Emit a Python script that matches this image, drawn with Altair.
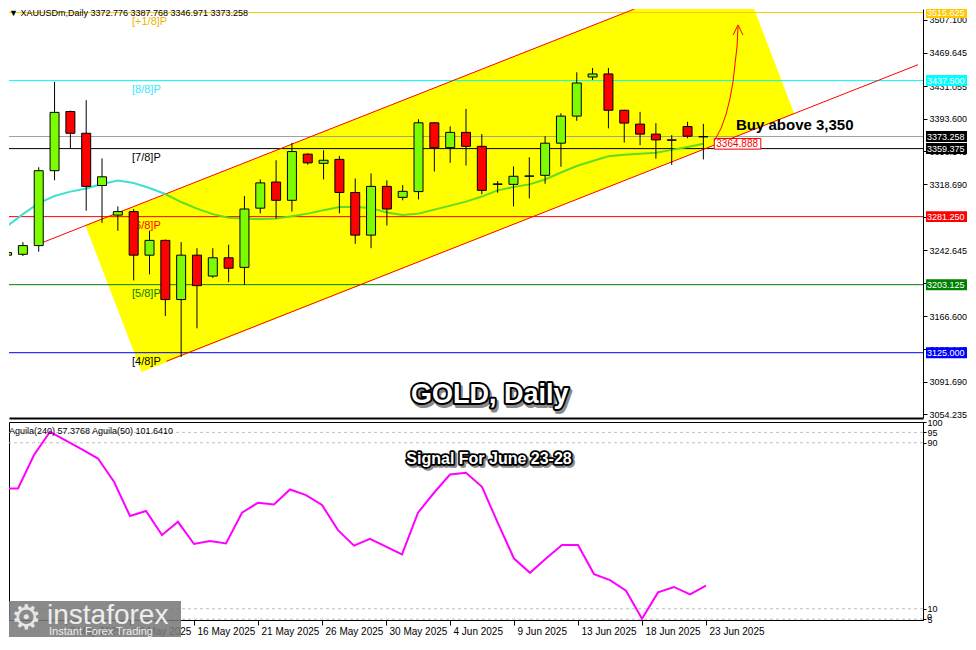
import altair as alt
import pandas as pd

# ---------------- data ----------------
dates = ["2 May 2025", "4 May 2025", "5 May 2025", "6 May 2025", "7 May 2025", "8 May 2025",
         "9 May 2025", "11 May 2025", "12 May 2025", "13 May 2025", "14 May 2025", "15 May 2025",
         "16 May 2025", "18 May 2025", "19 May 2025", "20 May 2025", "21 May 2025", "22 May 2025",
         "23 May 2025", "25 May 2025", "26 May 2025", "27 May 2025", "28 May 2025", "29 May 2025",
         "30 May 2025", "1 Jun 2025", "2 Jun 2025", "3 Jun 2025", "4 Jun 2025", "5 Jun 2025",
         "6 Jun 2025", "8 Jun 2025", "9 Jun 2025", "10 Jun 2025", "11 Jun 2025", "12 Jun 2025",
         "13 Jun 2025", "15 Jun 2025", "16 Jun 2025", "17 Jun 2025", "18 Jun 2025", "19 Jun 2025",
         "20 Jun 2025", "22 Jun 2025", "23 Jun 2025"]

opens = [3237, 3238, 3248, 3334, 3402, 3377, 3317, 3283, 3287, 3237, 3254, 3186, 3237, 3213, 3234,
         3223, 3291, 3321, 3300, 3353, 3342.5, 3347, 3309, 3260, 3316, 3303.4, 3310, 3389, 3360.5,
         3378, 3362, 3318.3, 3318.3, 3327.6, 3328.7, 3365.6, 3396.7, 3441.6, 3445.1, 3403.4, 3387.5,
         3376, 3369.4, 3384.7, 3372.776]
highs = [3242, 3252, 3338, 3436, 3403, 3415, 3348, 3293, 3290, 3265, 3255, 3252, 3245, 3245, 3249,
         3305, 3324, 3346, 3366, 3354, 3357.5, 3351, 3325, 3331, 3323, 3317.5, 3393, 3390, 3385,
         3405, 3376, 3322, 3339, 3349.4, 3373.6, 3400, 3447, 3452, 3452, 3404, 3401.6,
         3388.6, 3374.8, 3390.1, 3387.768]
lows = [3234, 3236, 3241, 3323, 3360, 3288, 3274, 3265, 3208, 3215, 3167, 3120, 3153, 3211, 3206,
        3203, 3285, 3279, 3287, 3341, 3324, 3285, 3250, 3245, 3271, 3300, 3301, 3333, 3343,
        3340, 3307, 3308.7, 3293, 3302.2, 3319, 3338.6, 3391.3, 3438.2, 3382.6, 3366.3, 3363.3,
        3347.8, 3340.6, 3371.3, 3346.971]
closes = [3240, 3248, 3334, 3401, 3377, 3316, 3327, 3287, 3237, 3254, 3186, 3237, 3202, 3234, 3222,
          3290, 3320, 3300, 3356, 3343, 3346, 3309, 3260, 3316, 3290, 3310.3, 3389, 3360.5, 3378,
          3362, 3311.4, 3318.8, 3327.6, 3328, 3365.6, 3396.7, 3434.7, 3445.1, 3403.4, 3388.7, 3376,
          3369.4, 3369.0, 3373.6, 3373.258]

ma_values = [3270.3, 3284.1, 3296.8, 3304.9, 3310.0, 3313.5, 3318.7, 3322.7, 3319.8, 3314.1, 3307.2,
             3298.0, 3290.5, 3284.1, 3280.1, 3279.0, 3278.4, 3279.0, 3281.8, 3284.7, 3288.7, 3292.2,
             3292.5, 3291.0, 3285.9, 3283.0, 3284.7, 3289.3, 3293.9, 3298.5, 3304.3, 3311.4, 3315.2,
             3318.3, 3323.9, 3331.9, 3339.4, 3345.2, 3350.6, 3352.3, 3353.5, 3354.7, 3357.9, 3361.3,
             3364.9]

aguila = [68.0, 68.0, 84.1, 95.3, 91.0, 86.8, 82.4, 71.2, 54.7, 57.1, 45.5, 51.9, 41.2, 42.6, 41.5,
          56.3, 61.1, 60.3, 67.5, 64.8, 60.0, 47.9, 40.4, 43.7, 39.9, 36.2, 56.3, 65.9, 74.7, 75.5,
          68.8, 51.1, 34.2, 27.3, 34.2, 40.7, 40.7, 26.7, 23.8, 18.7, 5.2, 17.9, 20.5, 16.9, 21.1]

level_prices = [3515.625, 3437.500, 3373.258, 3359.375, 3281.250, 3203.125, 3125.000]
level_labels = ["3515.625", "3437.500", "3373.258", "3359.375", "3281.250", "3203.125", "3125.000"]
level_line_colors = ["#FFC800", "#00FFFF", "#A0A0A0", "#000000", "#FF0000", "#008000", "#0000FF"]
level_box_colors = ["#FFC800", "#00FFFF", "#000000", "#000000", "#FF0000", "#008000", "#0000FF"]

tag_prices = [3515.625, 3437.500, 3359.375, 3281.250, 3203.125, 3125.000]
tag_texts = ["[+1/8]P", "[8/8]P", "[7/8]P", "[6/8]P", "[5/8]P", "[4/8]P"]
tag_colors = ["#F0B400", "#30E8FF", "#000000", "#FF0000", "#008000", "#000000"]

price_ticks = [3507.100, 3469.645, 3431.055, 3393.600, 3356.145, 3318.690, 3280.667, 3242.645,
               3204.622, 3166.600, 3129.145, 3091.690, 3054.235]
date_ticks = [4, 8, 12, 16, 20, 24, 28, 32, 36, 40, 44]
osc_ticks = [5, 10, 90, 95, 100]
osc_grid = [5, 10, 90, 95]

# channel (bar index, price)
upper_x = [2.0, 39.64]
upper_p = [3249.8, 3519.7]
lower_x = [10.06, 57.5625]
lower_p = [3115.1, 3455.7]
fill_x = [4.94, 8.5, 39.64, 46.19, 47.21, 49.75]
fill_top = [3271.7, 3296.4, 3519.7, 3519.7, 3519.7, 3399.1]
fill_bot = [3271.7, 3102.8, 3327.2, 3374.2, 3381.5, 3399.1]

# curved arrow annotation (bar index, price)
arc_x = [44.69, 45.13, 45.44, 45.69, 45.88, 46.0, 46.13, 46.19]
arc_p = [3368.1, 3383.1, 3399.1, 3417.5, 3437.0, 3456.6, 3477.2, 3499.1]
head_x = [45.88, 46.19, 46.5]
head_p = [3489.9, 3501.4, 3489.9]

ma_label_value = 3364.888
header = "\u25BC  XAUUSDm,Daily  3372.776 3387.768 3346.971 3373.258"
osc_header = "Aguila(240) 57.3768   Aguila(50) 101.6410"

# ---------------- layout ----------------
W = 914
H_TOP = 409
H_BOT = 198
FONT = "Liberation Sans"
P_TOP = 3519.7

xs = alt.Scale(domain=[0.4375, 0.4375 + W / 16.0], nice=False, zero=False)
ys = alt.Scale(domain=[3050.0, P_TOP], nice=False, zero=False)
os_ = alt.Scale(domain=[4.58, 100.0], nice=False, zero=False)

top_x_axis = alt.Axis(orient="bottom", labels=False, ticks=False, domain=True, domainColor="black",
                      domainWidth=2, grid=False, title=None)
top_y_axis = alt.Axis(orient="right", values=price_ticks, format=".3f", grid=False, title=None,
                      tickSize=4, tickColor="black", domainColor="black", labelColor="black",
                      labelFontSize=9, labelPadding=2, labelOverlap=False, labelFont=FONT)

expr = "[" + ",".join("'" + d + "'" for d in dates) + "][datum.value]"
bot_x_axis = alt.Axis(orient="bottom", values=date_ticks, labelExpr=expr, labelAlign="left",
                      labelOffset=3, labelFlush=False, labelOverlap=False, tickSize=5,
                      tickColor="black", domainColor="black", labelColor="black", labelFontSize=10,
                      labelPadding=1, labelBaseline="top", grid=False, title=None, labelFont=FONT)
bot_y_axis = alt.Axis(orient="right", values=osc_ticks, grid=False, title=None, tickSize=3,
                      tickColor="black", domainColor="black", labelColor="black", labelFontSize=9,
                      labelPadding=1, labelOverlap=False, labelFont=FONT)


def TX(f):
    return alt.X(f, type="quantitative", scale=xs, axis=top_x_axis)


def TY(f):
    return alt.Y(f, type="quantitative", scale=ys, axis=top_y_axis)


def BX(f):
    return alt.X(f, type="quantitative", scale=xs, axis=bot_x_axis)


def BY(f):
    return alt.Y(f, type="quantitative", scale=os_, axis=bot_y_axis)


idx = list(range(len(dates)))
candles = pd.DataFrame({"i": idx, "o": opens, "h": highs, "l": lows, "c": closes})
candles["col"] = ["#7CFC00" if c >= o else "#FF0000" for o, c in zip(opens, closes)]

ma_df = pd.DataFrame({"i": idx, "v": ma_values})
osc_df = pd.DataFrame({"i": idx, "v": aguila})
lev_df = pd.DataFrame({"price": level_prices, "lab": level_labels, "lc": level_line_colors,
                       "bc": level_box_colors})
tag_df = pd.DataFrame({"price": tag_prices, "t": tag_texts, "tc": tag_colors})
fill_df = pd.DataFrame({"x": fill_x, "top": fill_top, "bot": fill_bot})
chan_df = pd.DataFrame({"x": upper_x + lower_x, "p": upper_p + lower_p,
                        "g": ["u", "u", "l", "l"]})
arc_df = pd.DataFrame({"x": arc_x, "p": arc_p, "o": list(range(len(arc_x)))})
head_df = pd.DataFrame({"x": head_x, "p": head_p, "o": [0, 1, 2]})
one = pd.DataFrame({"a": [0]})

# ---------------- top panel ----------------
fill = alt.Chart(fill_df).mark_area(color="#FFFF00", clip=True).encode(
    x=TX("x"), y=TY("top"), y2=alt.Y2("bot"))

levels = alt.Chart(lev_df).mark_rule(strokeWidth=1).encode(
    y=TY("price"), color=alt.Color("lc:N", scale=None))

chan = alt.Chart(chan_df).mark_line(color="#FF0000", strokeWidth=1, clip=True).encode(
    x=TX("x"), y=TY("p"), detail="g:N")

tags = alt.Chart(tag_df).mark_text(align="left", baseline="top", dy=3, fontSize=11, font=FONT).encode(
    x=alt.value(123), y=TY("price"), text="t:N", color=alt.Color("tc:N", scale=None))

ma_cyan = alt.Chart(ma_df).transform_filter("datum.i <= 10").mark_line(
    color="#40E0D0", strokeWidth=2, clip=True).encode(x=TX("i"), y=TY("v"))
ma_green = alt.Chart(ma_df).transform_filter("datum.i >= 10").mark_line(
    color="#60DD20", strokeWidth=2, clip=True).encode(x=TX("i"), y=TY("v"))

wicks = alt.Chart(candles).mark_rule(
    color="black", strokeWidth=1, clip=True).encode(x=TX("i"), y=TY("l"), y2=alt.Y2("h"))
bodies = alt.Chart(candles).mark_bar(
    size=9, stroke="black", strokeWidth=1, clip=True).encode(
    x=TX("i"), y=TY("o"), y2=alt.Y2("c"), color=alt.Color("col:N", scale=None))

boxes = alt.Chart(lev_df).transform_calculate(
    lo="datum.price - 6.3", hi="min(datum.price + 6.3, %f)" % P_TOP).mark_rect().encode(
    x=alt.value(W + 3), x2=alt.value(W + 44), y=TY("lo:Q"), y2=alt.Y2("hi:Q"),
    color=alt.Color("bc:N", scale=None))
box_text = alt.Chart(lev_df).mark_text(align="left", baseline="middle", fontSize=9, font=FONT,
                                       color="white").encode(
    x=alt.value(W + 4), y=TY("price"), text="lab:N")

ma_lab_df = pd.DataFrame({"price": [ma_label_value], "x0": [44.69], "x1": [47.63],
                          "lab": ["%.3f" % ma_label_value]})
ma_box = alt.Chart(ma_lab_df).transform_calculate(
    lo="datum.price - 6.1", hi="datum.price + 6.1").mark_rect(
    fill="white", stroke="#FF0000", strokeWidth=1).encode(
    x=TX("x0"), x2=alt.X2("x1"), y=TY("lo:Q"), y2=alt.Y2("hi:Q"))
ma_txt = alt.Chart(ma_lab_df).mark_text(align="left", baseline="middle", fontSize=10, font=FONT,
                                        color="#FF0000", dx=2).encode(
    x=TX("x0"), y=TY("price"), text="lab:N")

arc = alt.Chart(arc_df).mark_line(color="#FF0000", strokeWidth=1, clip=True).encode(
    x=TX("x"), y=TY("p"), order="o:Q")
head = alt.Chart(head_df).mark_line(color="#FF0000", strokeWidth=1, clip=True).encode(
    x=TX("x"), y=TY("p"), order="o:Q")

buy_df = pd.DataFrame({"x": [46.06], "p": [3386.5], "t": ["Buy above 3,350"]})
buy = alt.Chart(buy_df).mark_text(align="left", baseline="middle", fontSize=15, fontWeight="bold",
                                  font=FONT, color="black").encode(
    x=TX("x"), y=TY("p"), text="t:N")

gold_df = pd.DataFrame({"x": [30.5], "p": [3076.4], "t": ["GOLD, Daily"]})
gkw = dict(align="center", baseline="middle", fontSize=27, fontWeight="bold", font=FONT)
gold_sh = alt.Chart(gold_df).mark_text(color="#8a8a8a", stroke="#8a8a8a", strokeWidth=4,
                                       strokeJoin="round", dx=2, dy=3, **gkw).encode(
    x=TX("x"), y=TY("p"), text="t:N")
gold_ol = alt.Chart(gold_df).mark_text(color="black", stroke="black", strokeWidth=4,
                                       strokeJoin="round", **gkw).encode(
    x=TX("x"), y=TY("p"), text="t:N")
gold_fg = alt.Chart(gold_df).mark_text(color="white", **gkw).encode(
    x=TX("x"), y=TY("p"), text="t:N")

head_txt = alt.Chart(pd.DataFrame({"t": [header]})).mark_text(
    align="left", baseline="top", fontSize=9, font=FONT, color="black").encode(
    x=alt.value(0), y=alt.value(0), text="t:N")

top = alt.layer(fill, levels, chan, tags, ma_cyan, ma_green, wicks, bodies, boxes, box_text,
                ma_box, ma_txt, arc, head, buy, gold_sh, gold_ol, gold_fg, head_txt).properties(
    width=W, height=H_TOP, view=alt.ViewBackground(stroke=None))

# ---------------- bottom panel ----------------
grid = alt.Chart(pd.DataFrame({"v": osc_grid})).mark_rule(
    color="#C0C0C0", strokeDash=[3, 3], strokeWidth=1).encode(y=BY("v"))
osc = alt.Chart(osc_df).mark_line(
    color="#FF00FF", strokeWidth=2, clip=True).encode(x=BX("i"), y=BY("v"))
osc_head = alt.Chart(pd.DataFrame({"t": [osc_header]})).mark_text(
    align="left", baseline="middle", fontSize=9, font=FONT, color="black").encode(
    x=alt.value(0), y=alt.value(9), text="t:N")
zero_lab = alt.Chart(pd.DataFrame({"t": ["0"]})).mark_text(
    align="left", baseline="middle", fontSize=9, font=FONT, color="black").encode(
    x=alt.value(W + 4), y=alt.value(H_BOT - 3), text="t:N")

sig_df = pd.DataFrame({"x": [30.44], "v": [82.3], "t": ["Signal For June 23-28"]})
skw = dict(align="center", baseline="middle", fontSize=16, fontWeight="bold", font=FONT)
sig_sh = alt.Chart(sig_df).mark_text(color="#8a8a8a", stroke="#8a8a8a", strokeWidth=3.5,
                                     strokeJoin="round", dx=2, dy=2, **skw).encode(
    x=BX("x"), y=BY("v"), text="t:N")
sig_ol = alt.Chart(sig_df).mark_text(color="black", stroke="black", strokeWidth=3.5,
                                     strokeJoin="round", **skw).encode(
    x=BX("x"), y=BY("v"), text="t:N")
sig_fg = alt.Chart(sig_df).mark_text(color="white", **skw).encode(
    x=BX("x"), y=BY("v"), text="t:N")

wm_box = alt.Chart(one).mark_rect(color="#7A7A7A", opacity=0.88).encode(
    x=alt.value(0), x2=alt.value(172), y=alt.value(179), y2=alt.value(215))
wm_gear = alt.Chart(pd.DataFrame({"t": ["\u2699"]})).mark_text(
    align="left", baseline="middle", fontSize=34, font="DejaVu Sans", color="#E6E6E6").encode(
    x=alt.value(2), y=alt.value(197), text="t:N")
wm_big = alt.Chart(pd.DataFrame({"t": ["instaforex"]})).mark_text(
    align="left", baseline="alphabetic", fontSize=28, font=FONT, color="#EDEDED").encode(
    x=alt.value(38), y=alt.value(202), text="t:N")
wm_small = alt.Chart(pd.DataFrame({"t": ["Instant Forex Trading"]})).mark_text(
    align="left", baseline="alphabetic", fontSize=11, font=FONT, color="#EDEDED").encode(
    x=alt.value(40), y=alt.value(213), text="t:N")

bottom = alt.layer(grid, osc, osc_head, zero_lab, sig_sh, sig_ol, sig_fg, wm_box, wm_gear, wm_big,
                   wm_small).properties(
    width=W, height=H_BOT, view=alt.ViewBackground(stroke="black", strokeWidth=1))

chart = alt.vconcat(top, bottom, spacing=4, bounds="flush").properties(
    padding=0, background="white").configure_axis(labelFont=FONT)

chart.save("out.html", embed_options={"renderer": "svg", "actions": False})
